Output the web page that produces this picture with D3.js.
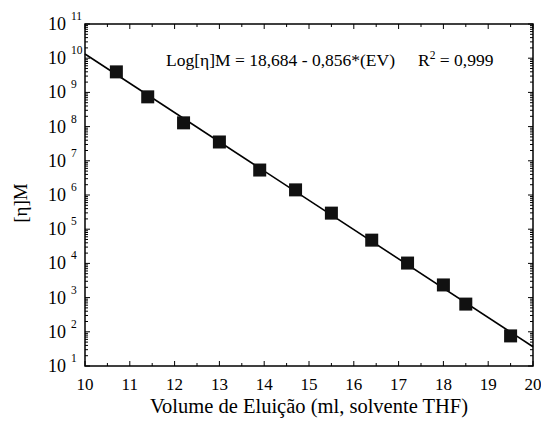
<!DOCTYPE html>
<html><head><meta charset="utf-8">
<script src="https://cdn.jsdelivr.net/npm/d3@7"></script>
<style>body{margin:0;background:#fff}svg{display:block}</style>
</head><body><svg id="c" width="541" height="422" font-family="'Liberation Serif', 'DejaVu Serif', 'Times New Roman', serif"></svg>
<script>
const elutionVolume = [10.7, 11.4, 12.2, 13.0, 13.9, 14.7, 15.5, 16.4, 17.2, 18.0, 18.5, 19.5];
const logEtaM = [9.60, 8.87, 8.11, 7.55, 6.73, 6.15, 5.47, 4.68, 4.01, 3.37, 2.81, 1.88];
const fitIntercept = 18.684, fitSlope = -0.856;
const xTicks = [10,11,12,13,14,15,16,17,18,19,20];
const yExponents = [1,2,3,4,5,6,7,8,9,10,11];

const svg = d3.select("#c");
const L=85,R=533,T=24,B=366;
const x = d3.scaleLinear().domain([10,20]).range([L,R]);
const y = d3.scaleLog().domain([10,1e11]).range([B,T]);

const g = svg.append("g").attr("stroke","#000").attr("stroke-width",1);
xTicks.forEach(v=>{
  g.append("line").attr("x1",x(v)).attr("x2",x(v)).attr("y1",B).attr("y2",B-5);
  g.append("line").attr("x1",x(v)).attr("x2",x(v)).attr("y1",T).attr("y2",T+5);
});
d3.range(10.5,20,1).forEach(v=>{
  g.append("line").attr("x1",x(v)).attr("x2",x(v)).attr("y1",B).attr("y2",B-3);
  g.append("line").attr("x1",x(v)).attr("x2",x(v)).attr("y1",T).attr("y2",T+3);
});
yExponents.forEach(e=>{
  const v=Math.pow(10,e);
  g.append("line").attr("x1",L).attr("x2",L+5).attr("y1",y(v)).attr("y2",y(v));
  g.append("line").attr("x1",R).attr("x2",R-5).attr("y1",y(v)).attr("y2",y(v));
  if(e<11){
    for(let m=2;m<=9;m++){
      const w=m*v;
      g.append("line").attr("x1",L).attr("x2",L+3).attr("y1",y(w)).attr("y2",y(w));
      g.append("line").attr("x1",R).attr("x2",R-3).attr("y1",y(w)).attr("y2",y(w));
    }
  }
});
svg.append("rect").attr("x",L).attr("y",T).attr("width",R-L).attr("height",B-T)
  .attr("fill","none").attr("stroke","#000").attr("stroke-width",1.5);

const lineX=[10,20];
svg.append("path").attr("fill","none").attr("stroke","#000").attr("stroke-width",1.6)
  .attr("d",d3.line().x(d=>x(d)).y(d=>y(Math.pow(10,fitIntercept+fitSlope*d)))(lineX));

svg.append("g").selectAll("rect").data(elutionVolume).join("rect")
  .attr("x",(d)=>x(d)-6.5).attr("y",(d,i)=>y(Math.pow(10,logEtaM[i]))-6.5)
  .attr("width",13).attr("height",13).attr("fill","#111");

xTicks.forEach(v=>{
  svg.append("text").attr("x",x(v)).attr("y",390).attr("text-anchor","middle")
    .attr("font-size",17).text(v);
});
yExponents.forEach(e=>{
  const yy=y(Math.pow(10,e));
  svg.append("text").attr("x",66).attr("y",yy+6).attr("text-anchor","end").attr("font-size",18).text("10");
  svg.append("text").attr("x",71).attr("y",yy-4).attr("font-size",11.5).text(e);
});

svg.append("text").attr("x",309).attr("y",413).attr("text-anchor","middle").attr("font-size",20.5)
  .text("Volume de Eluição (ml, solvente THF)");
svg.append("text").attr("transform","translate(27,203) rotate(-90)").attr("text-anchor","middle")
  .attr("font-size",19).text("[η]M");

svg.append("text").attr("x",166).attr("y",66).attr("font-size",17.5).text("Log[η]M = 18,684 - 0,856*(EV)");
const r2=svg.append("text").attr("x",418).attr("y",66).attr("font-size",17.5);
r2.append("tspan").text("R");
r2.append("tspan").attr("font-size",11.5).attr("dy",-7).text("2");
r2.append("tspan").attr("dy",7).text(" = 0,999");
</script></body></html>
